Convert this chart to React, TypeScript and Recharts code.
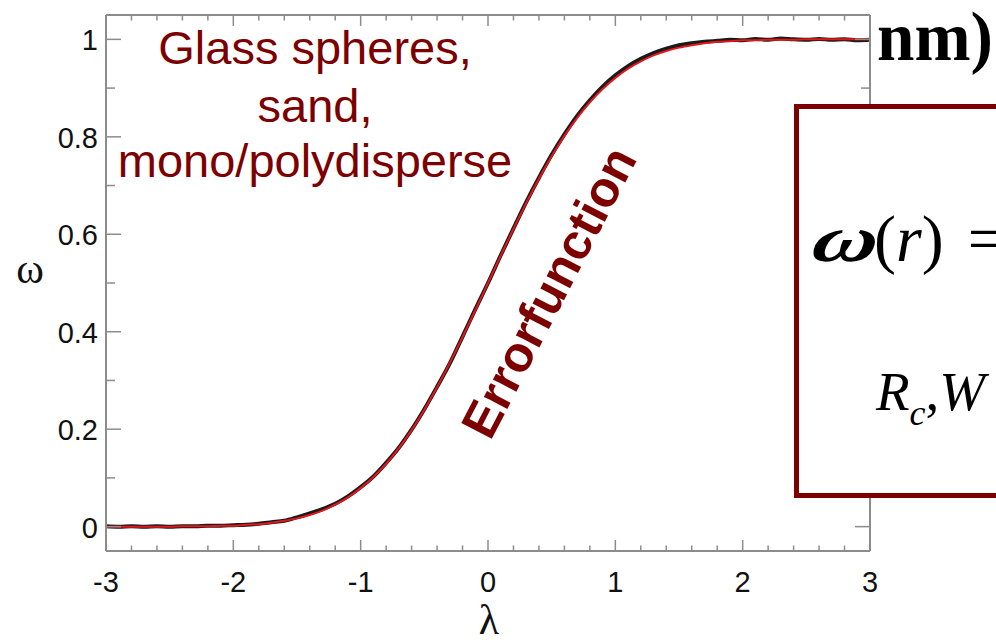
import React from 'react';
import { LineChart, Line, XAxis, YAxis } from 'recharts';

// Scaled radial coordinate λ (sampled every 0.1)
const lambdaValues = [
  -3.0, -2.9, -2.8, -2.7, -2.6, -2.5, -2.4, -2.3, -2.2, -2.1,
  -2.0, -1.9, -1.8, -1.7, -1.6, -1.5, -1.4, -1.3, -1.2, -1.1,
  -1.0, -0.9, -0.8, -0.7, -0.6, -0.5, -0.4, -0.3, -0.2, -0.1,
  0.0, 0.1, 0.2, 0.3, 0.4, 0.5, 0.6, 0.7, 0.8, 0.9,
  1.0, 1.1, 1.2, 1.3, 1.4, 1.5, 1.6, 1.7, 1.8, 1.9,
  2.0, 2.1, 2.2, 2.3, 2.4, 2.5, 2.6, 2.7, 2.8, 2.9, 3.0,
];

// Measured profile ω (black data band)
const measuredOmega = [
  0.001, 0.000, 0.001, 0.000, 0.001, 0.000, 0.001, 0.001, 0.002, 0.002,
  0.003, 0.004, 0.006, 0.009, 0.012, 0.019, 0.027, 0.036, 0.047, 0.062,
  0.081, 0.103, 0.131, 0.162, 0.199, 0.241, 0.287, 0.335, 0.390, 0.446,
  0.500, 0.557, 0.612, 0.666, 0.716, 0.763, 0.805, 0.843, 0.875, 0.903,
  0.926, 0.945, 0.960, 0.972, 0.981, 0.988, 0.992, 0.995, 0.997, 0.999,
  0.998, 1.001, 0.999, 1.002, 1.000, 0.999, 1.001, 0.999, 1.000, 0.998, 0.999,
];

// Error-function fit (red curve)
const fitOmega = [
  0.000, 0.000, 0.000, 0.000, 0.000, 0.000, 0.001, 0.001, 0.001, 0.002,
  0.002, 0.004, 0.005, 0.008, 0.012, 0.017, 0.024, 0.033, 0.045, 0.060,
  0.079, 0.102, 0.129, 0.161, 0.198, 0.240, 0.286, 0.336, 0.389, 0.444,
  0.500, 0.556, 0.611, 0.664, 0.714, 0.760, 0.802, 0.839, 0.871, 0.898,
  0.921, 0.940, 0.955, 0.967, 0.976, 0.983, 0.988, 0.992, 0.995, 0.996,
  0.998, 0.998, 0.999, 0.999, 0.999, 1.000, 1.000, 1.000, 1.000, 1.000, 1.000,
];

// Axis ticks (majors get labels, the rest are minor marks)
const xTicks = [
  -3, -2.8, -2.6, -2.4, -2.2, -2, -1.8, -1.6, -1.4, -1.2,
  -1, -0.8, -0.6, -0.4, -0.2, 0, 0.2, 0.4, 0.6, 0.8,
  1, 1.2, 1.4, 1.6, 1.8, 2, 2.2, 2.4, 2.6, 2.8, 3,
];
const yTicks = [0, 0.1, 0.2, 0.3, 0.4, 0.5, 0.6, 0.7, 0.8, 0.9, 1];
const yMajorLabels: Record<string, string> = { '0': '0', '0.2': '0.2', '0.4': '0.4', '0.6': '0.6', '0.8': '0.8', '1': '1' };

const annotationLines = ['Glass spheres,', 'sand,', 'mono/polydisperse'];
const fitLabel = 'Errorfunction';

const rows = lambdaValues.map((l, i) => ({ lambda: l, measured: measuredOmega[i], fit: fitOmega[i] }));

const AXIS = '#8c8c8c';
const DARK_RED = '#7d0000';
const SANS = '"Liberation Sans", Arial, Helvetica, sans-serif';
const SERIF = '"Liberation Serif", "Times New Roman", serif';

const isMajorX = (v: number) => Math.abs(v - Math.round(v)) < 1e-6;

const BottomTick = (props: any) => {
  const { x, y, payload } = props;
  const v = payload.value as number;
  const major = isMajorX(v);
  return (
    <g>
      <line x1={x} x2={x} y1={y} y2={y - (major ? 11 : 5.5)} stroke={AXIS} strokeWidth={1.5} />
      {major && (
        <text x={x} y={y + 41} textAnchor="middle" fontSize={29} fontFamily={SANS} fill="#111">
          {String(Math.round(v))}
        </text>
      )}
    </g>
  );
};

const TopTick = (props: any) => {
  const { x, y, payload } = props;
  const major = isMajorX(payload.value);
  return <line x1={x} x2={x} y1={y} y2={y + (major ? 11 : 5.5)} stroke={AXIS} strokeWidth={1.5} />;
};

const LeftTick = (props: any) => {
  const { x, y, payload } = props;
  const key = String(Math.round(payload.value * 10) / 10);
  const label = yMajorLabels[key];
  return (
    <g>
      <line x1={x} x2={x + (label ? 15 : 9)} y1={y} y2={y} stroke={AXIS} strokeWidth={1.5} />
      {label && (
        <text x={x - 8} y={y + 11} textAnchor="end" fontSize={29} fontFamily={SANS} fill="#111">
          {label}
        </text>
      )}
    </g>
  );
};

const RightTick = (props: any) => {
  const { x, y, payload } = props;
  const key = String(Math.round(payload.value * 10) / 10);
  const major = !!yMajorLabels[key];
  return <line x1={x} x2={x - (major ? 15 : 9)} y1={y} y2={y} stroke={AXIS} strokeWidth={1.5} />;
};

export default function App() {
  return (
    <div style={{ position: 'absolute', left: 0, top: 0, width: 996, height: 640, background: '#fff' }}>
      <LineChart
        width={996}
        height={640}
        data={rows}
        margin={{ top: 14, right: 125, bottom: 49, left: 46 }}
      >
        <XAxis
          dataKey="lambda"
          type="number"
          domain={[-3, 3]}
          ticks={xTicks}
          interval={0}
          height={40}
          tickSize={0}
          tickMargin={0}
          tickLine={false}
          axisLine={{ stroke: AXIS, strokeWidth: 2 }}
          tick={<BottomTick />}
          allowDataOverflow
        />
        <XAxis
          xAxisId="top"
          orientation="top"
          dataKey="lambda"
          type="number"
          domain={[-3, 3]}
          ticks={xTicks}
          interval={0}
          height={1}
          tickSize={0}
          tickMargin={0}
          tickLine={false}
          axisLine={{ stroke: AXIS, strokeWidth: 2 }}
          tick={<TopTick />}
          allowDataOverflow
        />
        <YAxis
          type="number"
          domain={[-0.05, 1.05]}
          ticks={yTicks}
          interval={0}
          width={60}
          tickSize={0}
          tickMargin={0}
          tickLine={false}
          axisLine={{ stroke: AXIS, strokeWidth: 2 }}
          tick={<LeftTick />}
          allowDataOverflow
        />
        <YAxis
          yAxisId="right"
          orientation="right"
          type="number"
          domain={[-0.05, 1.05]}
          ticks={yTicks}
          interval={0}
          width={1}
          tickSize={0}
          tickMargin={0}
          tickLine={false}
          axisLine={{ stroke: AXIS, strokeWidth: 2 }}
          tick={<RightTick />}
          allowDataOverflow
        />
        <Line
          dataKey="measured"
          stroke="#1a1a1a"
          strokeWidth={4}
          dot={false}
          isAnimationActive={false}
          type="monotone"
        />
        <Line
          dataKey="fit"
          stroke="#e3161c"
          strokeWidth={2}
          dot={false}
          isAnimationActive={false}
          type="monotone"
        />
      </LineChart>

      <svg
        width={996}
        height={640}
        style={{ position: 'absolute', left: 0, top: 0, pointerEvents: 'none' }}
      >
        {/* axis titles */}
        <text x={30} y={283} textAnchor="middle" fontSize={42} fontFamily={SERIF} fill="#111">ω</text>
        <text x={489} y={634} textAnchor="middle" fontSize={42} fontFamily={SERIF} fill="#111">λ</text>

        {/* sample description */}
        {annotationLines.map((t, i) => (
          <text
            key={t}
            x={315}
            y={[64, 122, 177][i]}
            textAnchor="middle"
            fontSize={47}
            fontFamily={SANS}
            fill={DARK_RED}
          >
            {t}
          </text>
        ))}

        {/* fit label along the curve */}
        <text
          x={564}
          y={300}
          textAnchor="middle"
          fontSize={50}
          fontWeight="bold"
          fontFamily={SANS}
          fill={DARK_RED}
          transform="rotate(-62.5 564 300)"
        >
          {fitLabel}
        </text>

        {/* units fragment */}
        <text x={877} y={60} fontSize={70} fontWeight="bold" fontFamily={SERIF} fill="#000" textLength={116} lengthAdjust="spacingAndGlyphs">
          nm)
        </text>

        {/* formula box */}
        <rect x={796.5} y={106.5} width={230} height={389} fill="#fff" stroke={DARK_RED} strokeWidth={5} />
        <text
          x={810}
          y={261}
          fontSize={66}
          fontStyle="italic"
          fontWeight="bold"
          fontFamily={SERIF}
          fill="#000"
          textLength={65}
          lengthAdjust="spacingAndGlyphs"
          transform="skewX(-12) translate(55 0)"
        >
          ω
        </text>
        <text x={874} y={261} fontSize={66} fontFamily={SERIF} fill="#000">
          (<tspan fontStyle="italic">r</tspan>)<tspan dx={24}>=</tspan>
        </text>
        <text x={876} y={410} fontSize={55} fontStyle="italic" fontFamily={SERIF} fill="#000">
          R<tspan fontSize={36} dy={15}>c</tspan><tspan dy={-15} fontStyle="normal">,</tspan>W
        </text>
      </svg>
    </div>
  );
}
